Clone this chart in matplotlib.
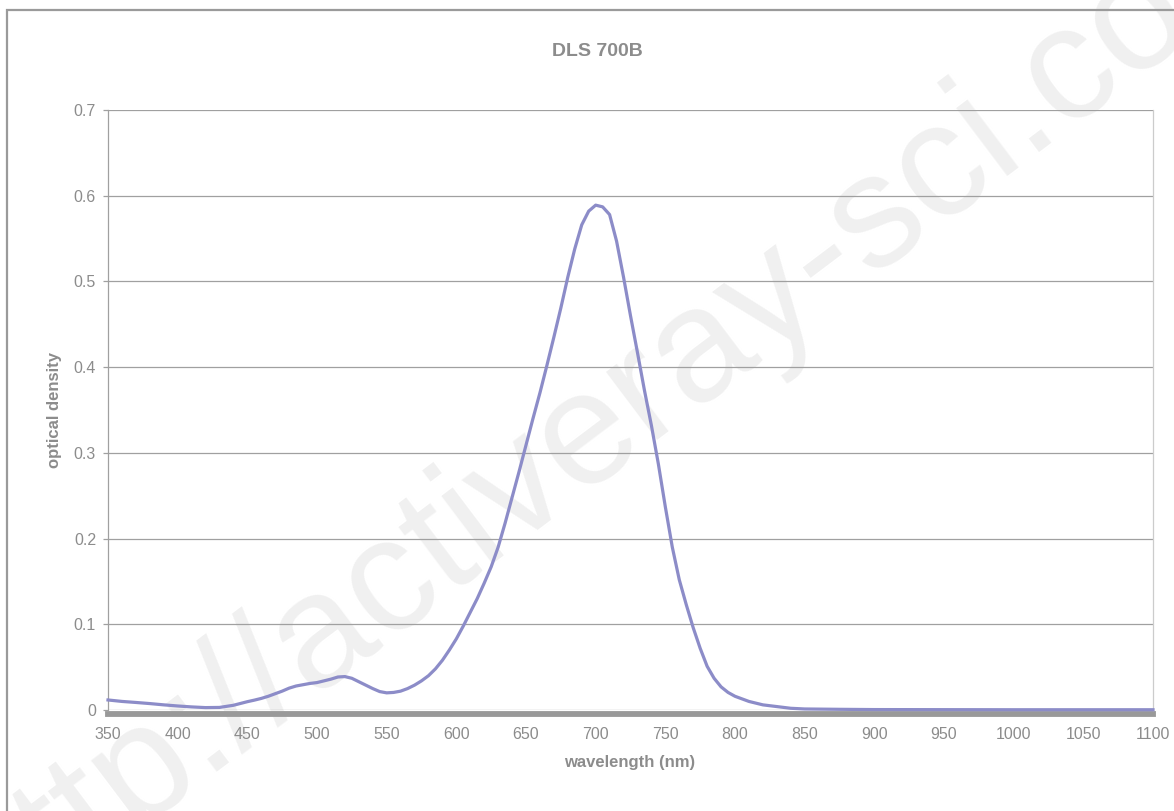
import matplotlib
matplotlib.use("Agg")
from matplotlib import pyplot as plt
from matplotlib.patches import Rectangle

# wavelength (nm) and optical density
wavelength = [350, 360, 370, 380, 390, 400, 410, 420, 430, 440,
              450, 455, 460, 465, 470, 475, 480, 485, 490, 495,
              500, 505, 510, 515, 520, 525, 530, 535, 540, 545,
              550, 555, 560, 565, 570, 575, 580, 585, 590, 595,
              600, 605, 610, 615, 620, 625, 630, 635, 640, 645,
              650, 655, 660, 665, 670, 675, 680, 685, 690, 695,
              700, 705, 710, 715, 720, 725, 730, 735, 740, 745,
              750, 755, 760, 765, 770, 775, 780, 785, 790, 795,
              800, 805, 810, 815, 820, 825, 830, 840, 850, 875,
              900, 950, 1000, 1050, 1100]
density = [0.0117, 0.0100, 0.0088, 0.0075, 0.0060, 0.0047, 0.0036, 0.0028, 0.0030, 0.0055,
           0.0097, 0.0115, 0.0135, 0.0160, 0.0190, 0.0220, 0.0255, 0.0280, 0.0295, 0.0310,
           0.0320, 0.0340, 0.0360, 0.0385, 0.0390, 0.0370, 0.0330, 0.0290, 0.0250, 0.0215,
           0.0200, 0.0205, 0.0220, 0.0250, 0.0290, 0.0340, 0.0400, 0.0480, 0.0580, 0.0700,
           0.0830, 0.0980, 0.1140, 0.1300, 0.1480, 0.1670, 0.1900, 0.2180, 0.2480, 0.2780,
           0.3090, 0.3400, 0.3700, 0.4020, 0.4350, 0.4690, 0.5050, 0.5380, 0.5660, 0.5820,
           0.5890, 0.5870, 0.5780, 0.5470, 0.5050, 0.4600, 0.4170, 0.3730, 0.3320, 0.2870,
           0.2370, 0.1900, 0.1520, 0.1230, 0.0960, 0.0720, 0.0510, 0.0370, 0.0270, 0.0205,
           0.0160, 0.0130, 0.0100, 0.0080, 0.0060, 0.0050, 0.0040, 0.0020, 0.0012, 0.0008,
           0.0005, 0.0004, 0.0003, 0.0003, 0.0003]

x_ticks = list(range(350, 1101, 50))
y_ticks = [0, 0.1, 0.2, 0.3, 0.4, 0.5, 0.6, 0.7]
y_tick_labels = ["0", "0.1", "0.2", "0.3", "0.4", "0.5", "0.6", "0.7"]

plt.rcParams['font.family'] = ['Liberation Sans', 'DejaVu Sans']
W, H = 1174, 811
fig = plt.figure(figsize=(W / 100, H / 100), dpi=100)
fig.patch.set_facecolor('white')

# outer chart frame
fig.patches.append(Rectangle((7 / W, -0.1), 1.2, 1 - 10 / H + 0.1, transform=fig.transFigure,
                             fill=False, edgecolor='#9a9a9a', linewidth=1.6))

ax = fig.add_axes([108 / W, 1 - 710 / H, (1153 - 108) / W, (710 - 110) / H])

# watermark
ax.text(0.53, 0.5, "http://activeray-sci.com", transform=fig.transFigure, fontsize=116,
        color='#f0f0f0', rotation=37, ha='center', va='center', zorder=0, clip_on=False)

ax.plot(wavelength, density, color='#8c8cc8', linewidth=2.3, zorder=3, clip_on=False)

ax.set_xlim(350, 1100)
ax.set_ylim(0, 0.7)
ax.set_xticks(x_ticks)
ax.set_yticks(y_ticks)
ax.set_yticklabels(y_tick_labels)
ax.grid(axis='y', color='#a0a0a0', linewidth=0.9)
ax.set_axisbelow(True)

ax.spines['top'].set_visible(False)
ax.spines['left'].set_color('#a0a0a0')
ax.spines['left'].set_linewidth(0.9)
ax.spines['right'].set_color('#cccccc')
ax.spines['right'].set_linewidth(0.9)
ax.spines['bottom'].set_color('#999999')
ax.spines['bottom'].set_linewidth(4.2)
ax.spines['bottom'].set_position(('outward', 3))
ax.spines['bottom'].set_zorder(2)

ax.tick_params(axis='y', colors='#a0a0a0', labelcolor='#8c8c8c', labelsize=11.5,
               length=3.6, width=0.9, direction='out', pad=5)
ax.tick_params(axis='x', length=0, labelcolor='#8c8c8c', labelsize=11.5, pad=9)

fig.text(597 / W, 1 - 52 / H, "DLS 700B", ha='center', va='center', fontsize=14,
         fontweight='bold', color='#8c8c8c')
fig.text(630 / W, 1 - 762 / H, "wavelength (nm)", ha='center', va='center', fontsize=12,
         fontweight='bold', color='#8c8c8c')
fig.text(54 / W, 1 - 410 / H, "optical density", ha='center', va='center', fontsize=12,
         fontweight='bold', color='#8c8c8c', rotation=90)

fig.savefig("out.png", dpi=100)
